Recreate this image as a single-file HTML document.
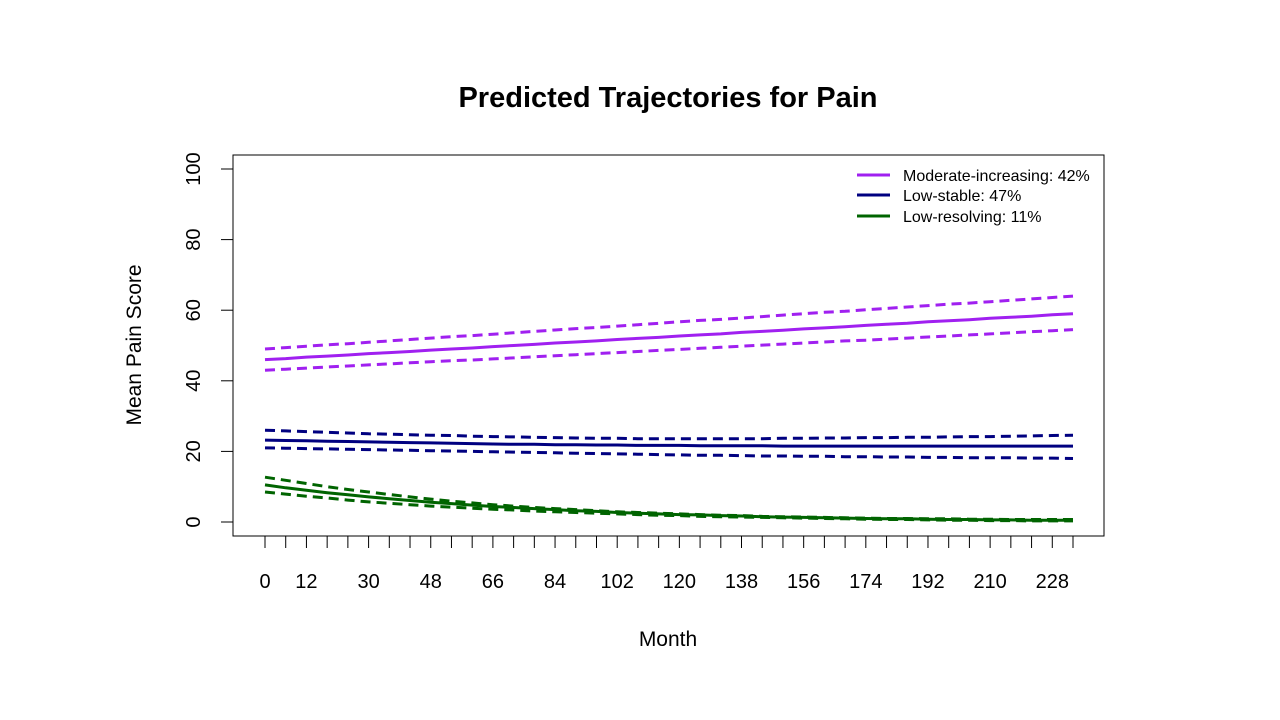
<!DOCTYPE html>
<html><head><meta charset="utf-8"><style>
body{margin:0;background:#fff}
svg{display:block;font-family:"Liberation Sans",Arial,sans-serif}
</style></head><body>
<svg id="chart" width="1280" height="720">
<rect width="1280" height="720" fill="#fff"/>
<text x="668" y="107" text-anchor="middle" font-size="29" font-weight="bold">Predicted Trajectories for Pain</text>
<rect x="233" y="155" width="871" height="381" fill="none" stroke="#000" stroke-width="1"/>
<text x="668" y="646" text-anchor="middle" font-size="21">Month</text>
<text transform="translate(141,345) rotate(-90)" text-anchor="middle" font-size="21">Mean Pain Score</text>
<g id="axes"></g>
<g id="series"></g>
<g>
<line x1="857" y1="175" x2="890" y2="175" stroke="#A020F0" stroke-width="3"/>
<text x="903" y="181" font-size="16">Moderate-increasing: 42%</text>
<line x1="857" y1="195" x2="890" y2="195" stroke="#000080" stroke-width="3"/>
<text x="903" y="201" font-size="16">Low-stable: 47%</text>
<line x1="857" y1="216" x2="890" y2="216" stroke="#006400" stroke-width="3"/>
<text x="903" y="222" font-size="16">Low-resolving: 11%</text>
</g>
</svg>
<script>
const months=[0,6,12,18,24,30,36,42,48,54,60,66,72,78,84,90,96,102,108,114,120,126,132,138,144,150,156,162,168,174,180,186,192,198,204,210,216,222,228,234];
const xLabels=[0,12,30,48,66,84,102,120,138,156,174,192,210,228];
const yTicks=[0,20,40,60,80,100];
const modMean=[46.0,46.3,46.7,47.0,47.3,47.7,48.0,48.3,48.7,49.0,49.3,49.7,50.0,50.3,50.7,51.0,51.3,51.7,52.0,52.3,52.7,53.0,53.3,53.7,54.0,54.3,54.7,55.0,55.3,55.7,56.0,56.3,56.7,57.0,57.3,57.7,58.0,58.3,58.7,59.0];
const modUpper=[49.0,49.4,49.8,50.2,50.5,50.9,51.3,51.7,52.1,52.5,52.8,53.2,53.6,54.0,54.4,54.8,55.1,55.5,55.9,56.3,56.7,57.1,57.4,57.8,58.2,58.6,59.0,59.4,59.7,60.1,60.5,60.9,61.3,61.7,62.0,62.4,62.8,63.2,63.6,64.0];
const modLower=[43.0,43.3,43.6,43.9,44.2,44.5,44.8,45.1,45.4,45.7,45.9,46.2,46.5,46.8,47.1,47.4,47.7,48.0,48.3,48.6,48.9,49.2,49.5,49.8,50.1,50.4,50.7,51.0,51.3,51.5,51.8,52.1,52.4,52.7,53.0,53.3,53.6,53.9,54.2,54.5];
const lsMean=[23.2,23.1,23.0,22.9,22.8,22.7,22.6,22.5,22.4,22.3,22.2,22.1,22.0,22.0,21.9,21.9,21.8,21.8,21.7,21.7,21.7,21.6,21.6,21.6,21.6,21.5,21.5,21.5,21.5,21.5,21.5,21.5,21.5,21.5,21.5,21.5,21.5,21.5,21.5,21.5];
const lsUpper=[26.0,25.8,25.6,25.4,25.2,25.0,24.9,24.7,24.6,24.5,24.3,24.2,24.1,24.0,23.9,23.8,23.7,23.7,23.6,23.6,23.6,23.6,23.6,23.6,23.6,23.7,23.7,23.8,23.8,23.9,23.9,24.0,24.0,24.1,24.2,24.2,24.3,24.4,24.5,24.6];
const lsLower=[21.0,20.9,20.8,20.7,20.6,20.5,20.4,20.3,20.2,20.1,20.0,19.9,19.8,19.7,19.6,19.5,19.4,19.3,19.2,19.1,19.0,18.9,18.9,18.8,18.7,18.7,18.6,18.6,18.5,18.5,18.4,18.4,18.3,18.3,18.2,18.2,18.2,18.1,18.1,18.0];
const lrMean=[10.5,9.7,9.0,8.3,7.7,7.1,6.6,6.1,5.6,5.2,4.8,4.4,4.1,3.8,3.5,3.2,3.0,2.7,2.5,2.3,2.1,2.0,1.8,1.7,1.5,1.4,1.3,1.2,1.1,1.0,0.9,0.9,0.8,0.7,0.7,0.6,0.6,0.5,0.5,0.5];
const lrUpper=[12.7,11.8,10.9,10.0,9.2,8.5,7.8,7.1,6.5,5.9,5.4,4.9,4.5,4.1,3.8,3.5,3.2,2.9,2.7,2.5,2.3,2.1,1.9,1.8,1.6,1.5,1.4,1.3,1.2,1.1,1.0,1.0,0.9,0.9,0.8,0.8,0.7,0.7,0.7,0.7];
const lrLower=[8.5,7.9,7.3,6.8,6.2,5.7,5.3,4.9,4.5,4.2,3.9,3.6,3.4,3.1,2.9,2.7,2.5,2.3,2.1,1.9,1.8,1.6,1.5,1.4,1.3,1.2,1.1,1.0,0.9,0.8,0.7,0.7,0.6,0.5,0.5,0.4,0.4,0.3,0.3,0.3];

const NS="http://www.w3.org/2000/svg";
function xs(m){return 265+(m/234)*(1073-265);}
function ys(v){return 522-(v/100)*(522-169);}
function mk(tag,attrs,parent){const e=document.createElementNS(NS,tag);for(const k in attrs)e.setAttribute(k,attrs[k]);parent.appendChild(e);return e;}
const axes=document.getElementById('axes');
mk('line',{x1:xs(0),y1:536,x2:xs(234),y2:536,stroke:'#000'},axes);
months.forEach(m=>{
  const t=mk('line',{x1:xs(m),y1:536,x2:xs(m),y2:548,stroke:'#000'},axes);
  
  
});
xLabels.forEach(m=>{
  const t=mk('text',{x:xs(m),y:588,'text-anchor':'middle','font-size':20},axes);
  t.textContent=m;
  
  
});
mk('line',{x1:233,y1:ys(0),x2:233,y2:ys(100),stroke:'#000'},axes);
yTicks.forEach(v=>{
  mk('line',{x1:221,y1:ys(v),x2:233,y2:ys(v),stroke:'#000'},axes);
  const t=mk('text',{transform:`translate(${200},${ys(v)}) rotate(-90)`,'text-anchor':'middle','font-size':20},axes);
  t.textContent=v;
  
  
});
const ser=document.getElementById('series');
function draw(vals,color,dashed,name){
  const d=vals.map((v,i)=>(i?'L':'M')+xs(months[i]).toFixed(1)+','+ys(v).toFixed(1)).join(' ');
  const p=mk('path',{d:d,fill:'none',stroke:color,'stroke-width':3},ser);
  if(dashed)p.setAttribute('stroke-dasharray','10 6');
  
  
}
draw(modUpper,'#A020F0',true,'moderate-upper-ci');
draw(modLower,'#A020F0',true,'moderate-lower-ci');
draw(modMean,'#A020F0',false,'moderate-mean-line');
draw(lsUpper,'#000080',true,'low-stable-upper-ci');
draw(lsLower,'#000080',true,'low-stable-lower-ci');
draw(lsMean,'#000080',false,'low-stable-mean-line');
draw(lrUpper,'#006400',true,'low-resolving-upper-ci');
draw(lrLower,'#006400',true,'low-resolving-lower-ci');
draw(lrMean,'#006400',false,'low-resolving-mean-line');
</script>
</body></html>
